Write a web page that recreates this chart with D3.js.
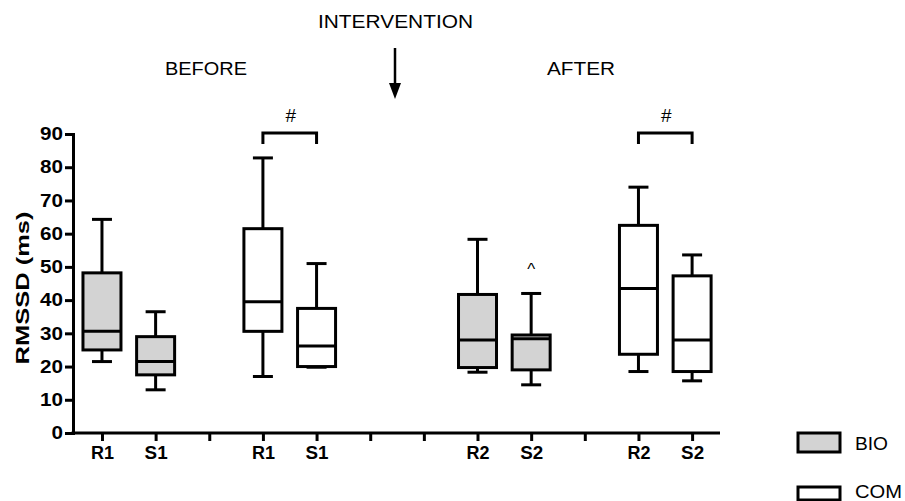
<!DOCTYPE html>
<html>
<head>
<meta charset="utf-8">
<script src="https://cdn.jsdelivr.net/npm/d3@7"></script>
<style>
  html, body { margin:0; padding:0; background:#fff; }
  svg { display:block; font-family:'Liberation Sans', Arial, sans-serif; }
</style>
</head>
<body>
<svg id="chart" width="905" height="501"></svg>
<script>
/* ---------- data ---------- */
const slotLabels = ['R1','S1','','R1','S1','','','R2','S2','','R2','S2'];
const boxSlots   = [0, 1, 3, 4, 7, 8, 10, 11];
const boxGroups  = ['BIO','BIO','COM','COM','BIO','BIO','COM','COM'];
const whiskerLo  = [21.5, 13.0, 17.0, 19.8, 18.3, 14.5, 18.5, 15.7];
const q1Values   = [25.0, 17.5, 30.6, 20.0, 19.7, 19.0, 23.7, 18.5];
const medians    = [30.6, 21.5, 39.5, 26.2, 28.0, 28.4, 43.5, 28.0];
const q3Values   = [48.2, 29.0, 61.5, 37.5, 41.7, 29.5, 62.5, 47.3];
const whiskerHi  = [64.3, 36.5, 82.8, 51.0, 58.3, 42.0, 74.0, 53.6];
const yTicks     = [0,10,20,30,40,50,60,70,80,90];
const sigPairs   = [[3,4],[10,11]];   // "#" brackets between slots
const caretSlot  = 8;                 // "^" marker
const legendKeys = ['BIO','COM'];
const groupFill  = { BIO:'#d3d3d3', COM:'#ffffff' };

/* ---------- setup ---------- */
const svg = d3.select('#chart');
const FONT = "'Liberation Sans', Arial, sans-serif";
const x = d3.scaleLinear().domain([-0.54, 11.52]).range([73, 720]);
const y = d3.scaleLinear().domain([0, 90]).range([433, 134]);

const boxes = boxSlots.map((s,i) => ({
  slot:s, group:boxGroups[i], lo:whiskerLo[i], q1:q1Values[i],
  med:medians[i], q3:q3Values[i], hi:whiskerHi[i]
}));

/* ---------- axes ---------- */
const yAxis = svg.append('g')
  .attr('transform', `translate(${x.range()[0]},0)`)
  .call(d3.axisLeft(y).tickValues(yTicks).tickSize(8).tickSizeOuter(0).tickPadding(2));
const xAxis = svg.append('g')
  .attr('transform', `translate(0,${y(0)})`)
  .call(d3.axisBottom(x).tickValues(d3.range(slotLabels.length))
        .tickFormat(i => slotLabels[i]).tickSize(8).tickSizeOuter(0).tickPadding(5));

[xAxis, yAxis].forEach(g => {
  g.selectAll('path, line').attr('stroke','#000').attr('stroke-width',3);
  g.selectAll('text').attr('fill','#000').style('font-family',FONT)
    .style('font-weight','bold').style('font-size','18px');
});
yAxis.select('.domain').attr('stroke-linecap','square');
xAxis.select('.domain').attr('d', `M${x.range()[0]-1.5},0H${x.range()[1]}`);
yAxis.selectAll('text').attr('textLength', d => String(d).length * 11.5)
  .attr('lengthAdjust','spacingAndGlyphs');
xAxis.selectAll('text').filter(i => slotLabels[i]).attr('textLength', 23)
  .attr('lengthAdjust','spacingAndGlyphs');

svg.append('text')
  .attr('transform','translate(29,288) rotate(-90)')
  .attr('text-anchor','middle')
  .style('font-family',FONT).style('font-weight','bold').style('font-size','19px')
  .attr('textLength',153).attr('lengthAdjust','spacingAndGlyphs')
  .text('RMSSD (ms)');

/* ---------- boxes ---------- */
const BW = 38, CW = 20;
const bg = svg.append('g').attr('stroke','#000').attr('stroke-width',3).attr('fill','none');
const b = bg.selectAll('g.box').data(boxes).join('g').attr('class','box');
b.append('line').attr('x1',d=>x(d.slot)).attr('x2',d=>x(d.slot)).attr('y1',d=>y(d.hi)).attr('y2',d=>y(d.q3));
b.append('line').attr('x1',d=>x(d.slot)).attr('x2',d=>x(d.slot)).attr('y1',d=>y(d.q1)).attr('y2',d=>y(d.lo));
b.append('line').attr('x1',d=>x(d.slot)-CW/2).attr('x2',d=>x(d.slot)+CW/2).attr('y1',d=>y(d.hi)).attr('y2',d=>y(d.hi));
b.append('line').attr('x1',d=>x(d.slot)-CW/2).attr('x2',d=>x(d.slot)+CW/2).attr('y1',d=>y(d.lo)).attr('y2',d=>y(d.lo));
b.append('rect')
  .attr('x',d=>x(d.slot)-BW/2).attr('width',BW)
  .attr('y',d=>y(d.q3)).attr('height',d=>y(d.q1)-y(d.q3))
  .attr('fill',d=>groupFill[d.group]);
b.append('line').attr('x1',d=>x(d.slot)-BW/2).attr('x2',d=>x(d.slot)+BW/2).attr('y1',d=>y(d.med)).attr('y2',d=>y(d.med));

/* ---------- significance marks ---------- */
const brTop = 90.3, brLeg = 87;
sigPairs.forEach(([a,c]) => {
  svg.append('path')
    .attr('d', `M${x(a)},${y(brLeg)}V${y(brTop)}H${x(c)}V${y(brLeg)}`)
    .attr('fill','none').attr('stroke','#000').attr('stroke-width',3);
  svg.append('text').attr('x',(x(a)+x(c))/2+1).attr('y',y(brTop)-11)
    .attr('text-anchor','middle').style('font-family',FONT).style('font-size','19px').text('#');
});
svg.append('text').attr('x',x(caretSlot)).attr('y',y(whiskerHi[5])-18)
  .attr('text-anchor','middle').style('font-family',FONT).style('font-size','17px').text('^');

/* ---------- header ---------- */
const hdr = (t,xx,yy,len) => svg.append('text').attr('x',xx).attr('y',yy)
  .style('font-family',FONT).style('font-size','18px')
  .attr('textLength',len).attr('lengthAdjust','spacingAndGlyphs').text(t);
hdr('INTERVENTION',318,28,155);
hdr('BEFORE',165,75,82);
hdr('AFTER',547,75,68);
svg.append('line').attr('x1',395).attr('x2',395).attr('y1',48).attr('y2',86)
  .attr('stroke','#000').attr('stroke-width',2.5);
svg.append('path').attr('d','M389,83L401,83L395,99Z').attr('fill','#000');

/* ---------- legend ---------- */
const lg = svg.append('g');
const legendY = [433, 487], legendH = [19, 13], legendLen = [33, 47];
legendKeys.forEach((k,i) => {
  lg.append('rect').attr('x',798).attr('y',legendY[i]).attr('width',42).attr('height',legendH[i])
    .attr('fill',groupFill[k]).attr('stroke','#000').attr('stroke-width',3);
  lg.append('text').attr('x',855).attr('y',legendY[i]+(i===0?17:11))
    .style('font-family',FONT).style('font-size','18px')
    .attr('textLength', legendLen[i]).attr('lengthAdjust','spacingAndGlyphs').text(k);
});
</script>
</body>
</html>
